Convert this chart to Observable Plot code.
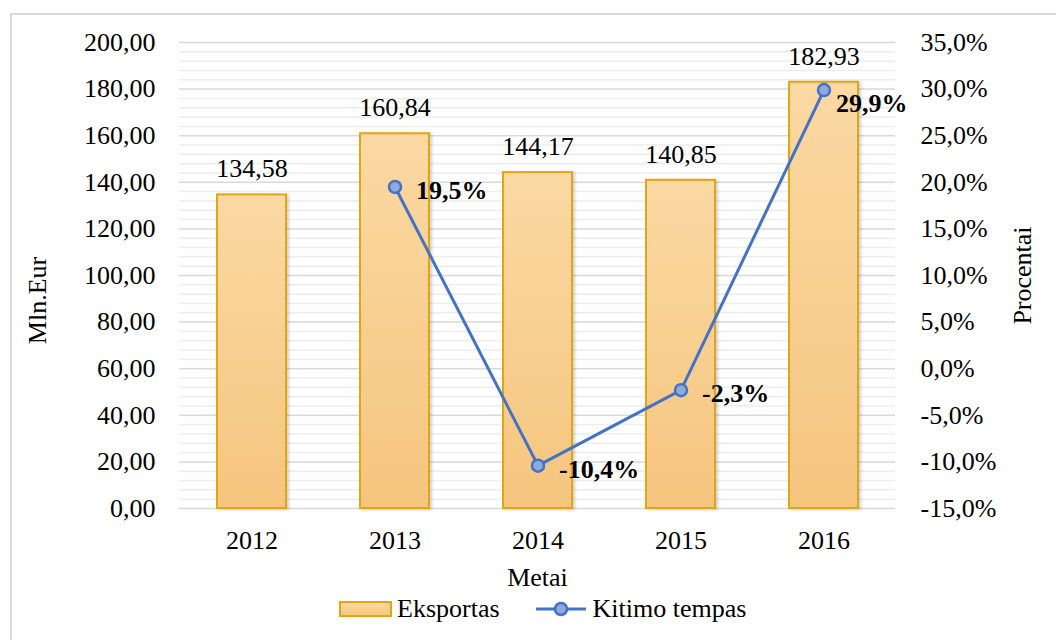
<!DOCTYPE html>
<html>
<head>
<meta charset="utf-8">
<script src="https://cdn.jsdelivr.net/npm/d3@7"></script>
<script src="https://cdn.jsdelivr.net/npm/@observablehq/plot@0.6"></script>
<style>
  html, body { margin: 0; padding: 0; background: #fff; width: 1056px; height: 640px; overflow: hidden; }
  #wrap { position: relative; width: 1056px; height: 640px; font-family: "Liberation Serif", "Times New Roman", serif; }
  #frame { position: absolute; left: 10px; top: 13px; width: 1100px; height: 700px; border: 2px solid #D9D9D9; box-sizing: border-box; pointer-events: none; }
  #chart { position: absolute; left: 0; top: 0; }
  #legend { position: absolute; left: 339px; top: 594px; display: flex; align-items: center; font-size: 26px; color: #000; white-space: nowrap; }
  #legend svg { display: block; }
</style>
</head>
<body>
<div id="wrap">
  <div id="frame"></div>
  <div id="chart"></div>
  <div id="legend">
    <svg width="54" height="18"><defs><linearGradient id="lg" x1="0" y1="0" x2="0" y2="1"><stop offset="0" stop-color="#FBD9A3"/><stop offset="1" stop-color="#F5C57E"/></linearGradient></defs><rect x="1" y="2" width="51" height="14" fill="url(#lg)" stroke="#E2A614" stroke-width="2"/></svg>
    <span style="margin-left:4px">Eksportas</span>
    <svg width="52" height="20" style="margin-left:36px"><line x1="0" y1="10" x2="50" y2="10" stroke="#4472C4" stroke-width="3"/><circle cx="25" cy="10" r="6" fill="#8EA9DB" stroke="#4472C4" stroke-width="2.5"/></svg>
    <span style="margin-left:5px">Kitimo tempas</span>
  </div>
</div>
<script>
// ---- data ----
const years = ["2012", "2013", "2014", "2015", "2016"];
const exportValues = [134.58, 160.84, 144.17, 140.85, 182.93];
const growthYears = ["2013", "2014", "2015", "2016"];
const growthRates = [19.5, -10.4, -2.3, 29.9];
const leftTicks = [0, 20, 40, 60, 80, 100, 120, 140, 160, 180, 200];
const minorTicks = d3.range(0, 201, 4).filter(v => v % 20 !== 0);
const rightTicks = [-15, -10, -5, 0, 5, 10, 15, 20, 25, 30, 35];

// map percent (right axis, -15..35) onto left scale (0..200)
const pctToY = p => (p + 15) * 4;
const yToPct = v => v / 4 - 15;

const bars = years.map((y, i) => ({year: y, value: exportValues[i]}));
const growth = growthYears.map((y, i) => ({year: y, pct: growthRates[i], yv: pctToY(growthRates[i])}));

const comma = (v, d) => v.toFixed(d).replace(".", ",");

const plot = Plot.plot({
  width: 1056,
  height: 592,
  marginLeft: 179,
  marginRight: 161,
  marginTop: 42,
  marginBottom: 84,
  style: {fontFamily: "'Liberation Serif', 'Times New Roman', serif", fontSize: "26px", color: "#000", background: "transparent"},
  x: {type: "band", domain: years, paddingInner: 0.52, paddingOuter: 0.26, axis: null},
  y: {domain: [0, 200], axis: null},
  marks: [
    Plot.ruleY(minorTicks, {stroke: "#EDEDED", strokeWidth: 1.5}),
    Plot.ruleY(leftTicks, {stroke: "#D9D9D9", strokeWidth: 1.5}),
    Plot.axisY({anchor: "left", ticks: leftTicks, tickSize: 0, tickPadding: 24, tickFormat: d => comma(d, 2), label: null}),
    Plot.axisY({anchor: "right", ticks: rightTicks.map(pctToY), tickSize: 0, tickPadding: 25, tickFormat: v => comma(yToPct(v), 1) + "%", label: null}),
    Plot.axisX({anchor: "bottom", tickSize: 0, tickPadding: 22, label: null}),
    Plot.barY(bars, {x: "year", y: "value", fill: "url(#barGrad)", stroke: "#E2A614", strokeWidth: 2}),
    Plot.text(bars, {x: "year", y: "value", text: d => comma(d.value, 2), dy: -26, fill: "#000"}),
    Plot.line(growth, {x: "year", y: "yv", stroke: "#4472C4", strokeWidth: 3}),
    Plot.dot(growth, {x: "year", y: "yv", r: 6, fill: "#8EA9DB", stroke: "#4472C4", strokeWidth: 2.5}),
    Plot.text(growth.filter(d => d.year !== "2016"), {x: "year", y: "yv", text: d => comma(d.pct, 1) + "%", textAnchor: "start", dx: 21, dy: 4, fontWeight: "bold", fill: "#000"}),
    Plot.text(growth.filter(d => d.year === "2016"), {x: "year", y: "yv", text: d => comma(d.pct, 1) + "%", textAnchor: "start", dx: 12, dy: 14, fontWeight: "bold", fill: "#000"}),
    Plot.text(["Metai"], {frameAnchor: "bottom", textAnchor: "middle", lineAnchor: "middle", dy: 69, fill: "#000"}),
    Plot.text(["Mln.Eur"], {frameAnchor: "left", textAnchor: "middle", lineAnchor: "middle", dx: -142, dy: 25, rotate: -90, fill: "#000"}),
    Plot.text(["Procentai"], {frameAnchor: "right", textAnchor: "middle", lineAnchor: "middle", dx: 127, rotate: -90, fill: "#000"})
  ]
});

// gradient definition for bar fill
const ns = "http://www.w3.org/2000/svg";
const defs = document.createElementNS(ns, "defs");
defs.innerHTML = '<linearGradient id="barGrad" x1="0" y1="0" x2="0" y2="1"><stop offset="0" stop-color="#FBD9A3"/><stop offset="1" stop-color="#F5C57E"/></linearGradient>';
plot.insertBefore(defs, plot.firstChild);
const barG = plot.querySelector('g[aria-label="bar"]');
if (barG) barG.style.filter = "drop-shadow(2px 1px 1.5px rgba(0,0,0,0.18))";

document.getElementById("chart").appendChild(plot);
</script>
</body>
</html>
